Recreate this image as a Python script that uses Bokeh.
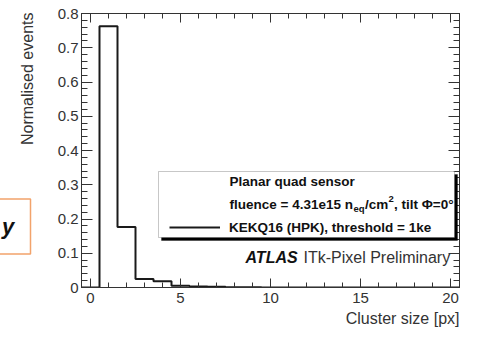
import numpy as np
from bokeh.plotting import figure
from bokeh.models import (Label, BoxAnnotation, Legend, LegendItem, SingleIntervalTicker,
                          LinearAxis, CustomJSTickFormatter, Range1d)
from bokeh.embed import file_html
from bokeh.resources import INLINE

# ---- data ----
cluster_size = list(range(0, 21))
normalised_events = [0.0, 0.763, 0.177, 0.025, 0.018, 0.005, 0.003, 0.002, 0.001, 0.0005,
                     0.0003, 0.0, 0.0, 0.0, 0.0, 0.0, 0.0, 0.0, 0.0, 0.0, 0.0]
legend_lines = ["Planar quad sensor", "KEKQ16 (HPK), threshold = 1ke"]

FONT = "Liberation Sans"
TXT = "#333333"

W, H = 461, 328
L, R, T, B = 81, 2, 13, 41
x0, x1 = -0.5, 20.5
y0, y1 = 0.0, 0.8
pxx = (W - L - R) / (x1 - x0)
pxy = (H - T - B) / (y1 - y0)

def cdx(cx):  # canvas px -> data x
    return (cx - L) / pxx + x0

def cdy(cy):  # canvas px -> data y
    return (H - B - cy) / pxy + y0

p = figure(width=W, height=H, output_backend="svg", toolbar_location=None,
           x_range=Range1d(x0, x1), y_range=Range1d(y0, y1),
           min_border_left=L, min_border_right=R, min_border_top=T, min_border_bottom=B)
p.xgrid.visible = False
p.ygrid.visible = False
p.outline_line_color = TXT
p.background_fill_color = "white"
p.border_fill_color = "white"

def style_axis(ax, major, minor):
    ax.axis_line_color = TXT
    ax.major_tick_line_color = TXT
    ax.minor_tick_line_color = TXT
    ax.major_tick_in = major
    ax.major_tick_out = 0
    ax.minor_tick_in = minor
    ax.minor_tick_out = 0
    ax.major_label_text_font = FONT
    ax.major_label_text_font_size = "15px"
    ax.major_label_text_color = TXT

xa = p.xaxis[0]
xa.ticker = SingleIntervalTicker(interval=5, num_minor_ticks=5)
style_axis(xa, 9, 5)
xa.major_label_standoff = 5

ya = p.yaxis[0]
ya.ticker = SingleIntervalTicker(interval=0.1, num_minor_ticks=5)
ya.formatter = CustomJSTickFormatter(code="return Math.abs(tick) < 1e-9 ? '0' : tick.toFixed(1);")
style_axis(ya, 11, 6)
ya.major_label_standoff = 3

top = LinearAxis(ticker=SingleIntervalTicker(interval=5, num_minor_ticks=5),
                 formatter=CustomJSTickFormatter(code="return '';"))
style_axis(top, 9, 5)
top.major_label_text_font_size = "0px"
top.major_label_standoff = 0
p.add_layout(top, "above")

right = LinearAxis(ticker=SingleIntervalTicker(interval=0.1, num_minor_ticks=5),
                   formatter=CustomJSTickFormatter(code="return '';"))
style_axis(right, 11, 6)
right.major_label_text_font_size = "0px"
right.major_label_standoff = 0
p.add_layout(right, "right")

# y-axis title, top aligned (ROOT style); side panel so it is not clipped
p.add_layout(Label(x=cdx(27), y=cdy(12), text="Normalised events", text_font=FONT,
                   text_font_size="16px", text_font_style="normal", text_color=TXT,
                   text_align="right", text_baseline="middle", angle=np.pi / 2), "left")

# cut-off orange-framed box at the left edge
p.add_layout(Label(x=cdx(30), y=cdy(226), text="y\u00a0\u00a0", text_font=FONT, text_font_size="22px",
                   text_font_style="bold italic", text_color="#111111",
                   text_align="right", text_baseline="middle",
                   background_fill_color="white", border_line_color="#f2a36b",
                   border_line_width=1.5, padding=(4, 15)), "left")

# x-axis title, right aligned at the end of the axis
p.add_layout(Label(x=x1, y=cdy(318), text="Cluster size [px]", text_font=FONT,
                   text_font_size="16px", text_font_style="normal", text_color=TXT,
                   text_align="right", text_baseline="middle"), "below")

# ---- histogram outline ----
centers = np.array(cluster_size, dtype=float)
edges = np.concatenate([centers - 0.5, [centers[-1] + 0.5]])
xs = np.repeat(edges, 2)[1:-1]
ys = np.repeat(np.array(normalised_events), 2)
r = p.line(xs, ys, line_color="#1a1a1a", line_width=2)

# ---- legend box with shadow ----
bl, br, bt, bb = cdx(158), cdx(454), cdy(171), cdy(237)
p.add_layout(BoxAnnotation(left=bl + 3 / pxx, right=br + 3 / pxx, top=bt - 3 / pxy, bottom=bb - 3 / pxy,
                           fill_color="black", fill_alpha=1, line_color="black", line_width=1))
p.add_layout(BoxAnnotation(left=bl, right=br, top=bt, bottom=bb,
                           fill_color="white", fill_alpha=1, line_color="#444444", line_width=1))

legend = Legend(items=[LegendItem(label=legend_lines[1], renderers=[r])],
                location=(169 - L, (H - B) - 226.5 - 8), border_line_color=None,
                background_fill_alpha=0, glyph_width=51, glyph_height=14, label_height=14,
                label_standoff=9, padding=0, margin=0, spacing=0,
                label_text_font=FONT, label_text_font_style="bold",
                label_text_font_size="13.5px", label_text_color="#111111")
p.add_layout(legend)

tx = cdx(229)
def lab(text, x, y, size="13.5px", style="bold", xo=0, yo=0, align="left", color="#111111"):
    p.add_layout(Label(x=x, y=y, text=text, x_offset=xo, y_offset=yo, text_font=FONT,
                       text_font_size=size, text_font_style=style, text_align=align,
                       text_baseline="middle", text_color=color))

lab(legend_lines[0], tx, cdy(181))
fy = cdy(203.5)
lab("fluence = 4.31e15 n", tx, fy)
lab("eq", tx, fy, size="9.5px", xo=124, yo=-4)
lab("/cm", tx, fy, xo=135.5)
lab("2", tx, fy, size="9.5px", xo=159, yo=5)
lab(", tilt \u03a6=0\u00b0", tx, fy, xo=164.5)

ay = cdy(256.5)
ax0 = cdx(245)
lab("ATLAS", ax0, ay, size="16px", style="bold italic", color="#111111")
lab("ITk-Pixel Preliminary", ax0, ay, size="16px", style="normal", xo=58, color=TXT)

open("out.html", "w").write(file_html(p, INLINE))
